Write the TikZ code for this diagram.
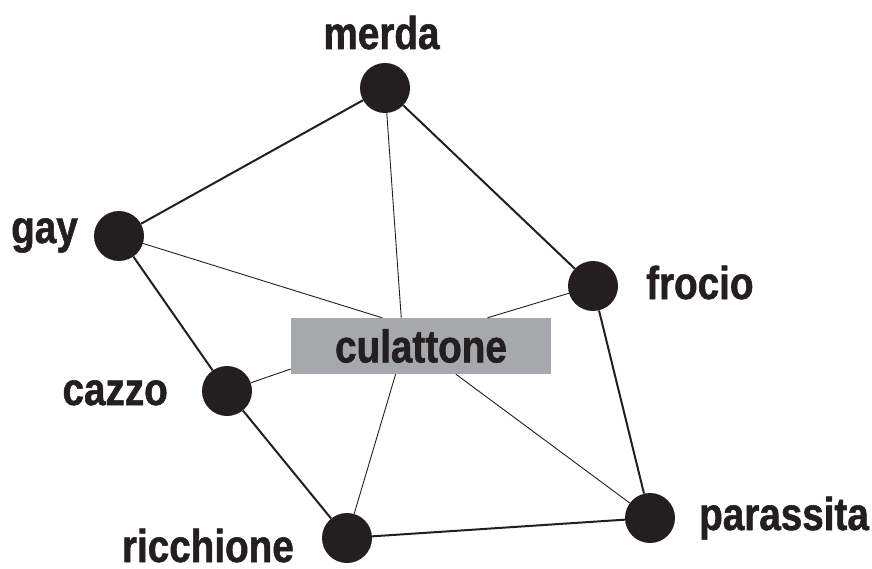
\documentclass[tikz,border=0pt]{standalone}
\usepackage{fontspec}
\setmainfont{Liberation Sans}[FakeStretch=0.84, BoldFeatures={FakeBold=1.2}]
\usepackage{xcolor}
\usepackage{tikz}
\usetikzlibrary{positioning}

\definecolor{inkblack}{HTML}{231F20}
\definecolor{boxgray}{HTML}{A7A8AB}

\begin{document}
\begin{tikzpicture}[x=1pt, y=-1pt]
    \tikzstyle{hub} = [circle, fill=inkblack, minimum size=50pt, inner sep=0pt]
    \tikzstyle{word} = [inner sep=0pt, text=inkblack, font=\fontsize{46}{46}\selectfont\bfseries]
    \tikzstyle{centre} = [rectangle, fill=boxgray, minimum width=260pt, minimum height=56pt, inner sep=0pt, text=inkblack, font=\fontsize{46}{46}\selectfont\bfseries]
    \tikzstyle{outer} = [draw=inkblack, line width=2pt]
    \tikzstyle{inner} = [draw=inkblack, line width=0.9pt]

    \useasboundingbox (0,0) rectangle (872,569);

    % Term nodes
    \node (merda) [hub] at (385,88) {};
    \node (gay) [hub] at (119,236) {};
    \node (frocio) [hub] at (593,286) {};
    \node (cazzo) [hub] at (227,391) {};
    \node (ricchione) [hub] at (347,538) {};
    \node (parassita) [hub] at (650,518) {};
    \node (cul) [centre] at (421,346) {culattone};

    % Labels
    \node (merdalbl) [word, anchor=base] at (381.5,49) {merda};
    \node (gaylbl) [word, anchor=base east] at (78,243) {gay};
    \node (frociolbl) [word, anchor=base west] at (646,299) {frocio};
    \node (cazzolbl) [word, anchor=base east] at (168,405) {cazzo};
    \node (ricchionelbl) [word, anchor=base east] at (294,562) {ricchione};
    \node (parassitalbl) [word, anchor=base west] at (699,530) {parassita};

    % Outer ring
    \draw[outer] (merda) -- (gay);
    \draw[outer] (merda) -- (frocio);
    \draw[outer] (gay) -- (cazzo);
    \draw[outer] (cazzo) -- (ricchione);
    \draw[outer] (ricchione) -- (parassita);
    \draw[outer] (parassita) -- (frocio);

    % Spokes to the centre box
    \draw[inner] (merda) -- (cul.125.5);
    \draw[inner] (gay) -- (cul.144.3);
    \draw[inner] (frocio) -- (cul.23.6);
    \draw[inner] (cazzo) -- (cul.190.9);
    \draw[inner] (ricchione) -- (cul.228.2);
    \draw[inner] (parassita) -- (cul.321.3);
\end{tikzpicture}
\end{document}
